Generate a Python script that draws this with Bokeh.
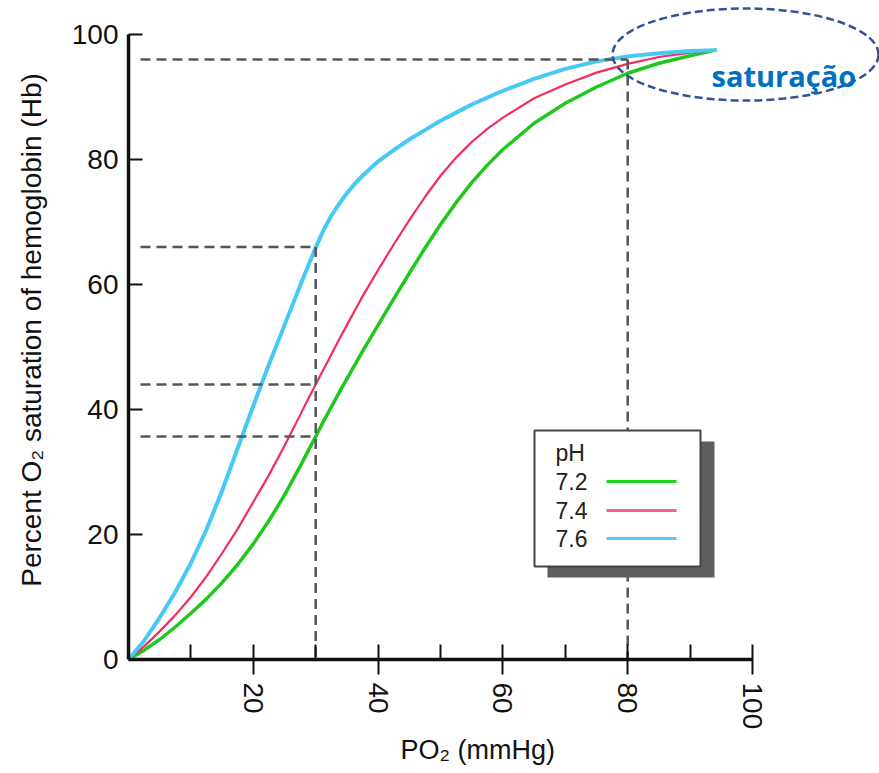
import math
from bokeh.plotting import figure
from bokeh.models import Range1d, FixedTicker, Title
from bokeh.core.properties import value
from bokeh.embed import file_html
from bokeh.resources import INLINE

# ---------------- data ----------------
po2 = [0, 2.5, 5, 7.5, 10, 12.5, 15, 17.5, 20, 22.5, 25, 27.5, 28.75, 30, 31.25, 32.5, 33.75, 35,
       36.25, 37.5, 40, 42.5, 45, 47.5, 50, 52.5, 55, 57.5, 60, 65, 70, 75, 80, 85, 90, 94]
sat_72 = [0, 1.5, 3.2, 5.2, 7.4, 9.7, 12.3, 15.2, 18.5, 22.2, 26.3, 30.9, 33.3, 35.7, 38.1, 40.4, 42.7, 44.9,
          47.1, 49.3, 53.5, 57.7, 61.8, 65.8, 69.6, 73.1, 76.3, 79.1, 81.6, 85.8, 89.0, 91.6, 93.8, 95.4, 96.6, 97.5]
sat_74 = [0, 2.1, 4.5, 7.1, 10.0, 13.3, 17.0, 20.9, 25.2, 29.5, 34.2, 39.1, 41.6, 44.0, 46.4, 48.8, 51.2, 53.5,
          55.8, 58.1, 62.3, 66.4, 70.3, 74.0, 77.4, 80.3, 82.8, 84.9, 86.7, 89.8, 92.0, 93.9, 95.3, 96.4, 97.1, 97.5]
sat_76 = [0, 3.0, 6.7, 10.8, 15.4, 20.8, 27.0, 33.8, 40.6, 47.2, 53.5, 59.8, 62.9, 65.9, 68.7, 71.0, 72.9, 74.6,
          76.1, 77.4, 79.7, 81.5, 83.2, 84.7, 86.2, 87.5, 88.8, 89.9, 91.0, 92.9, 94.5, 95.7, 96.5, 97.0, 97.35, 97.5]
ph_labels = ["7.2", "7.4", "7.6"]
ph_colors = ["#1ec81e", "#f52d5f", "#48c8f5"]
legend_colors = ["#1ed21e", "#f0648c", "#5ac8fa"]
ph_widths = [3.5, 2.2, 4]

x_ticks = [20, 40, 60, 80, 100]
x_minor = [10, 30, 50, 70, 90]
y_ticks = [0, 20, 40, 60, 80, 100]

ref_po2 = [30, 30, 30, 80]
ref_sat = [35.7, 44, 66, 96]

# ---------------- layout helpers ----------------
W, H = 879, 773
FRAME_LEFT = 128          # figure px
FRAME_BOTTOM = 659
SX, SY = 6.24, 6.25       # px per unit
x_end = (W - FRAME_LEFT) / SX
y_end = FRAME_BOTTOM / SY

def dx(px):  # page px -> data x
    return (px - FRAME_LEFT) / SX

def dy(py):  # page px -> data y
    return (FRAME_BOTTOM - py) / SY

p = figure(width=W, height=H, x_range=Range1d(0, x_end), y_range=Range1d(0, y_end),
           output_backend="svg", toolbar_location=None,
           min_border_left=FRAME_LEFT, min_border_right=0, min_border_top=0,
           min_border_bottom=H - FRAME_BOTTOM)
p.outline_line_color = None
p.xgrid.visible = False
p.ygrid.visible = False
p.background_fill_color = "white"
p.border_fill_color = "white"

FONT = "Liberation Sans"

# x axis
xa = p.xaxis[0]
xa.bounds = (0, 100)
xa.ticker = FixedTicker(ticks=x_ticks, minor_ticks=x_minor)
xa.axis_line_width = 3.5
xa.axis_line_color = "#111111"
xa.major_tick_in = 15
xa.major_tick_out = 15
xa.major_tick_line_width = 2
xa.major_tick_line_color = "#111111"
xa.minor_tick_in = 15
xa.minor_tick_out = 0
xa.minor_tick_line_width = 2
xa.minor_tick_line_color = "#111111"
xa.major_label_orientation = -math.pi / 2
xa.major_label_standoff = 8
xa.major_label_text_font = FONT
xa.major_label_text_font_size = "28px"
xa.major_label_text_color = "#111111"

# x axis title, placed left of the frame centre as in the original
p.add_layout(Title(text="PO\u2082 (mmHg)", align="left", offset=272,
                   text_font=FONT, text_font_size="27px", text_font_style="normal",
                   text_color="#111111", standoff=0), "below")

# y axis
ya = p.yaxis[0]
ya.bounds = (0, 100)
ya.ticker = FixedTicker(ticks=y_ticks, minor_ticks=[])
ya.axis_line_width = 3.5
ya.axis_line_color = "#111111"
ya.major_tick_in = 14
ya.major_tick_out = 0
ya.major_tick_line_width = 2
ya.major_tick_line_color = "#111111"
ya.minor_tick_line_color = None
ya.major_label_standoff = 10
ya.major_label_text_font = FONT
ya.major_label_text_font_size = "28px"
ya.major_label_text_color = "#111111"
ya.axis_label = "Percent O\u2082 saturation of hemoglobin (Hb)"
ya.axis_label_text_font = FONT
ya.axis_label_text_font_size = "28px"
ya.axis_label_text_font_style = "normal"
ya.axis_label_text_color = "#111111"
ya.axis_label_standoff = 22

# curves
for sat, col, lw in zip([sat_72, sat_74, sat_76], ph_colors, ph_widths):
    p.line(po2, sat, line_color=col, line_width=lw, line_join="round", line_cap="round")

# dashed reference lines
x0 = dx(140)
for xr, yr in zip(ref_po2, ref_sat):
    p.line([x0, xr], [yr, yr], line_color="#555555", line_width=2.5, line_dash="10 6")
for xr in sorted(set(ref_po2)):
    ytop = max(s for xx, s in zip(ref_po2, ref_sat) if xx == xr)
    p.line([xr, xr], [ytop, 0], line_color="#555555", line_width=2.5, line_dash="10 6")

# legend (drawn manually: labels left of the line samples)
p.quad(left=[dx(547)], right=[dx(714)], top=[dy(441)], bottom=[dy(577)],
       fill_color="#5e5e5e", line_color=None)
p.quad(left=[dx(534)], right=[dx(700)], top=[dy(430)], bottom=[dy(566)],
       fill_color="white", line_color="#444444", line_width=2)
p.text(x=[dx(555)], y=[dy(452)], text=["pH"], text_font=value(FONT),
       text_font_size="23px", text_color="#222222", text_baseline="middle", text_align="left")
leg_y = [481, 510, 538]
for lab, col, ly in zip(ph_labels, legend_colors, leg_y):
    p.text(x=[dx(555)], y=[dy(ly)], text=[lab], text_font=value(FONT),
           text_font_size="23px", text_color="#222222", text_baseline="middle", text_align="left")
    p.line([dx(606), dx(676)], [dy(ly), dy(ly)], line_color=col, line_width=3)

# "saturação" annotation
p.ellipse(x=[dx(745)], y=[dy(54)], width=[266 / SX], height=[92 / SY],
          fill_color=None, line_color="#2f5597", line_width=2.5, line_dash="8 4")
p.text(x=[dx(711)], y=[dy(75)], text=["saturação"], text_font=value("Open Sans"),
       text_font_style="bold", text_font_size="29px", text_color="#0070c0",
       text_baseline="alphabetic", text_align="left")

open("out.html", "w").write(file_html(p, INLINE))
